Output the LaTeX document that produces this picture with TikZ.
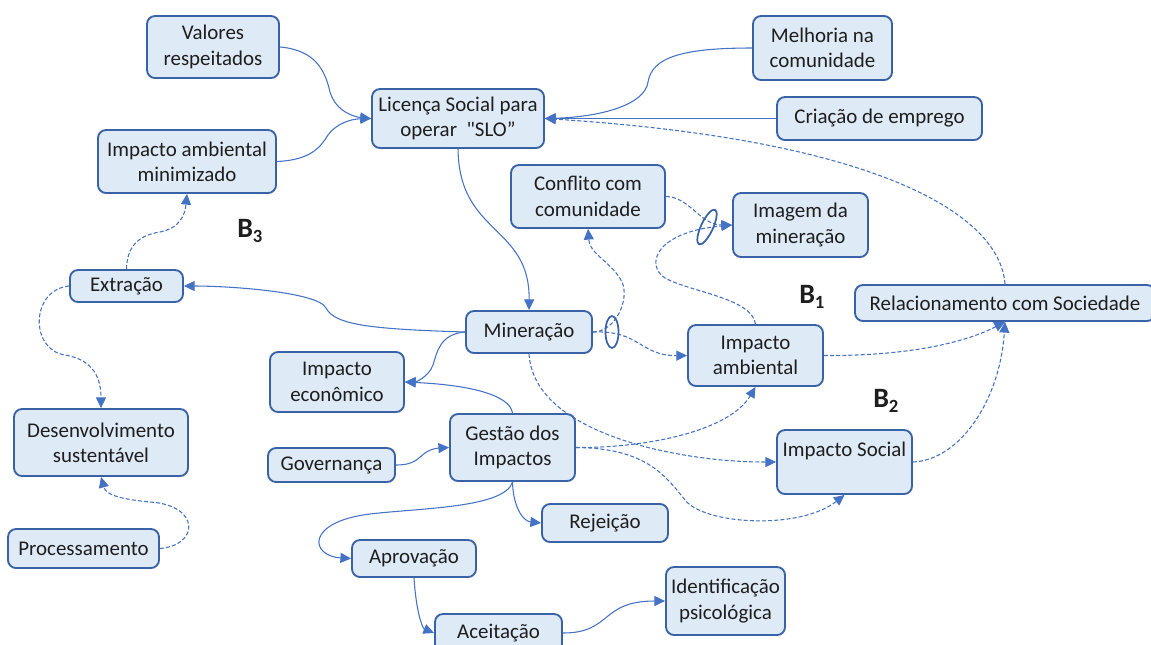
\documentclass[tikz,border=0pt]{standalone}
\usepackage{fontspec}
\setmainfont{Carlito}
\newfontfamily\plainfont{Carlito}
\usetikzlibrary{arrows.meta,shapes.geometric}
\definecolor{boxfill}{HTML}{DEEAF6}
\definecolor{boxline}{HTML}{3A62A6}
\definecolor{link}{HTML}{4472C4}
\definecolor{ink}{HTML}{1E1E1E}

\begin{document}
\begin{tikzpicture}[x=0.75pt,y=-0.75pt,
  box/.style={draw=boxline, fill=boxfill, line width=1.4pt, rounded corners=6pt,
    align=center, inner sep=0pt, text=ink, font=\fontsize{15.7}{19}\selectfont},
  sz/.style 2 args={minimum width={#1*0.75pt}, minimum height={#2*0.75pt}},
  flow/.style={draw=link, line width=0.8pt, -{Triangle[length=8pt,width=7.5pt]}},
  delay/.style={flow, dash pattern=on 3pt off 1.6pt},
  delaymark/.style={draw=boxline, line width=1.3pt, ellipse, inner sep=0pt},
  loopname/.style={font=\fontsize{21}{21}\selectfont\bfseries, text=ink,
    inner sep=0pt, anchor=base west}
]
\useasboundingbox (0,0) rectangle (1151,644);
\clip (0,0) rectangle (1151,644);

% ---- variables ----
\node[box, sz={132}{62}] (val) at (213,47) {Valores\\respeitados};
\node[box, sz={178}{63}] (iam) at (187,161.5) {Impacto ambiental\\minimizado};
\node[box, sz={172}{59}] (slo) at (458,118.5) {Licença Social para\\operar\ \ {\plainfont "SLO”}};
\node[box, sz={139}{64}] (mel) at (822.5,48) {Melhoria na\\comunidade};
\node[box, sz={205}{43}] (cri) at (879.5,118.5) {Criação de emprego};
\node[box, sz={154}{63}] (con) at (588,196.5) {Conflito com\\comunidade};
\node[box, sz={135}{64}] (img) at (800.5,225) {Imagem da\\mineração};
\node[box, sz={300}{36}] (rel) at (1005,303) {Relacionamento com Sociedade};
\node[box, sz={113}{32}] (ext) at (126.5,286) {Extração};
\node[box, sz={126}{42}] (min) at (529,332) {Mineração};
\node[box, sz={135}{61}] (amb) at (755.5,355.5) {Impacto\\ambiental};
\node[box, sz={134}{60}] (eco) at (337,382) {Impacto\\econômico};
\node[box, sz={174}{67}] (des) at (101,442.5) {Desenvolvimento\\sustentável};
\node[box, sz={125}{67}] (ges) at (512.5,447.5) {Gestão dos\\Impactos};
\node[box, sz={127}{34}] (gov) at (331.5,465) {Governança};
\node[box, sz={135}{64}] (soc) at (844.5,462) {Impacto Social\\\mbox{}};
\node[box, sz={126}{38}] (rej) at (605,523) {Rejeição};
\node[box, sz={151}{39}] (pro) at (83.5,548.5) {Processamento};
\node[box, sz={124}{37}] (apr) at (414,558.5) {Aprovação};
\node[box, sz={127}{38}] (ace) at (498.5,633) {Aceitação};
\node[box, sz={119}{68}] (idp) at (725.5,601) {Identificação\\psicológica};

% ---- loop names ----
\node[loopname] (b3) at (237,237) {B\raisebox{-4pt}{\fontsize{14}{14}\selectfont 3}};
\node[loopname] (b1) at (799,303) {B\raisebox{-4pt}{\fontsize{14}{14}\selectfont 1}};
\node[loopname] (b2) at (873,407) {B\raisebox{-4pt}{\fontsize{14}{14}\selectfont 2}};

% ---- solid links ----
\draw[flow] (val.east) .. controls (315,50) and (325,70) .. (330,92)
  .. controls (336,112) and (355,117) .. (slo.west);
\draw[flow] (iam.east) .. controls (310,160) and (320,148) .. (328,135)
  .. controls (336,124) and (350,119) .. (slo.west);
\draw[flow] (mel.west) .. controls (680,48) and (652,58) .. (648,82)
  .. controls (645,105) and (600,117) .. (slo.east);
\draw[flow] (cri.west) -- (slo.east);
\draw[flow] (slo.south) .. controls (459,235) and (530,225) .. (min.north);
\draw[flow] (min.west) .. controls (370,329) and (335,325) .. (326,308)
  .. controls (318,292) and (230,286) .. (ext.east);
\draw[flow] (min.west) .. controls (440,334) and (437,352) .. (433,365)
  .. controls (428,378) and (415,382) .. (eco.east);
\draw[flow] (ges.north) .. controls (510,395) and (470,385) .. (eco.east);
\draw[flow] (gov.east) .. controls (415,465) and (418,458) .. (425,453)
  .. controls (432,448) and (440,448) .. (ges.west);
\draw[flow] (ges.south) .. controls (513,505) and (522,521) .. (rej.west);
\draw[flow] (ges.south) .. controls (505,508) and (420,508) .. (370,514)
  .. controls (305,522) and (310,556) .. (apr.west);
\draw[flow] (apr.south) .. controls (416,610) and (422,628) .. (ace.west);
\draw[flow] (ace.east) .. controls (612,633) and (600,601) .. (idp.west);

% ---- dashed links ----
\draw[delay] (rel.north) .. controls (1000,215) and (880,140) .. (slo.east);
\draw[delay] (pro.east) .. controls (200,545) and (200,505) .. (150,502)
  .. controls (120,499) and (106,495) .. (des.south);
\draw[delay] (ext.west) .. controls (30,290) and (30,350) .. (65,355)
  .. controls (95,360) and (101,380) .. (des.north);
\draw[delay] (ext.north) .. controls (127,245) and (140,235) .. (160,232)
  .. controls (180,228) and (185,215) .. (iam.south);
\draw[delay] (min.east) .. controls (640,330) and (640,356) .. (amb.west);
\draw[delay] (min.east) .. controls (615,332) and (630,300) .. (622,282)
  .. controls (612,262) and (590,255) .. (con.south);
\draw[delay] (con.east) .. controls (690,197) and (700,225) .. (img.west);
\draw[delay] (amb.north) .. controls (752,298) and (690,292) .. (665,278)
  .. controls (645,265) and (655,232) .. (img.west);
\draw[delay] (amb.east) .. controls (900,356) and (960,345) .. (rel.south);
\draw[delay] (soc.east) .. controls (960,460) and (1000,400) .. (rel.south);
\draw[delay] (min.south) .. controls (532,400) and (580,430) .. (650,448)
  .. controls (700,460) and (740,462) .. (soc.west);
\draw[delay] (ges.east) .. controls (650,448) and (730,430) .. (amb.south);
\draw[delay] (ges.east) .. controls (645,448) and (665,475) .. (685,500)
  .. controls (705,525) and (800,530) .. (soc.south);

% ---- delay marks ----
\node[delaymark, minimum width={13*0.75pt}, minimum height={32*0.75pt}] (d1) at (612,332) {};
\node[delaymark, minimum width={38*0.75pt}, minimum height={12*0.75pt}, rotate=65] (d2) at (707,227) {};
\end{tikzpicture}
\end{document}
